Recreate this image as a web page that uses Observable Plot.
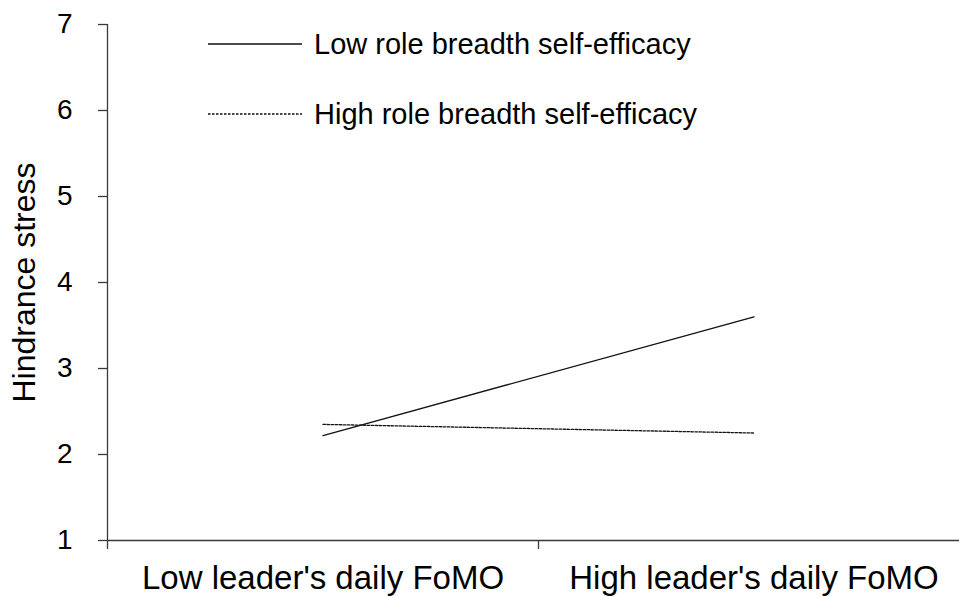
<!DOCTYPE html>
<html>
<head>
<meta charset="utf-8">
<script src="https://cdn.jsdelivr.net/npm/d3@7"></script>
<script src="https://cdn.jsdelivr.net/npm/@observablehq/plot@0.6"></script>
<style>
  html, body { margin: 0; padding: 0; background: #fff; }
  #chart { width: 959px; height: 596px; }
</style>
</head>
<body>
<div id="chart"></div>
<script>
// ---- data ----
const categories = ["Low leader's daily FoMO", "High leader's daily FoMO"];
const seriesNames = ["Low role breadth self-efficacy", "High role breadth self-efficacy"];
const lowRBSE = [2.22, 3.60];
const highRBSE = [2.35, 2.25];
const yTicks = [1, 2, 3, 4, 5, 6, 7];
const yLabel = "Hindrance stress";

// table built from arrays
const rows = [];
[lowRBSE, highRBSE].forEach((vals, s) => {
  vals.forEach((v, i) => rows.push({series: seriesNames[s], xi: i + 0.5, value: v}));
});

const axisColor = "#3a3a3a";
const font = "Liberation Sans, Arial, sans-serif";
const dashes = {[seriesNames[0]]: null, [seriesNames[1]]: "2.5,1.5"};

// legend as a custom render mark
function legendMark(index, scales, values, dimensions) {
  const g = d3.create("svg:g");
  seriesNames.forEach((name, i) => {
    const y = 44 + i * 70;
    g.append("line")
      .attr("x1", 208).attr("x2", 302).attr("y1", y).attr("y2", y)
      .attr("stroke", "#111").attr("stroke-width", 1.3)
      .attr("stroke-dasharray", dashes[name]);
    g.append("text")
      .attr("x", 314).attr("y", y).attr("dy", "0.36em")
      .attr("text-anchor", "start")
      .attr("font-size", 29).attr("font-family", font).attr("fill", "#000")
      .text(name);
  });
  return g.node();
}

const chart = Plot.plot({
  width: 959,
  height: 596,
  marginLeft: 107,
  marginTop: 24,
  marginBottom: 56,
  marginRight: 0,
  style: {fontFamily: font, background: "#fff", overflow: "visible"},
  x: {type: "linear", domain: [0, 2], range: [107, 969], axis: null},
  y: {domain: [1, 7], range: [540, 24], axis: null},
  marks: [
    // y axis ticks
    Plot.axisY({ticks: yTicks, tickSize: 9, tickFormat: () => "", stroke: axisColor, strokeWidth: 1.3, label: null}),
    // y tick labels
    Plot.text(yTicks, {y: d => d, text: d => String(d), frameAnchor: "left", dx: -35, textAnchor: "end", fontSize: 28, fill: "#000"}),
    // y axis title
    Plot.text([yLabel], {frameAnchor: "left", dx: -83, dy: 0, rotate: -90, fontSize: 32, fill: "#000", textAnchor: "middle"}),
    // y axis line
    Plot.ruleX([0], {y1: yTicks[0], y2: yTicks[yTicks.length - 1], stroke: axisColor, strokeWidth: 1.3}),
    // x axis line
    Plot.ruleY([yTicks[0]], {x1: 0, x2: categories.length, stroke: axisColor, strokeWidth: 1.3}),
    // x axis boundary ticks
    Plot.axisX({ticks: d3.range(categories.length + 1), tickSize: 9, tickFormat: () => "", stroke: axisColor, strokeWidth: 1.3, label: null}),
    // x category labels
    Plot.axisX({ticks: categories.map((_, i) => i + 0.5), tickSize: 0, tickPadding: 25, fontSize: 33, fill: "#000", tickFormat: d => categories[Math.floor(d)], label: null}),
    // series lines
    Plot.line(rows.filter(d => d.series === seriesNames[0]), {x: "xi", y: "value", stroke: "#111", strokeWidth: 1.4}),
    Plot.line(rows.filter(d => d.series === seriesNames[1]), {x: "xi", y: "value", stroke: "#111", strokeWidth: 1.3, strokeDasharray: "2.5,1.5"}),
    legendMark
  ]
});
document.getElementById("chart").appendChild(chart);
</script>
</body>
</html>
